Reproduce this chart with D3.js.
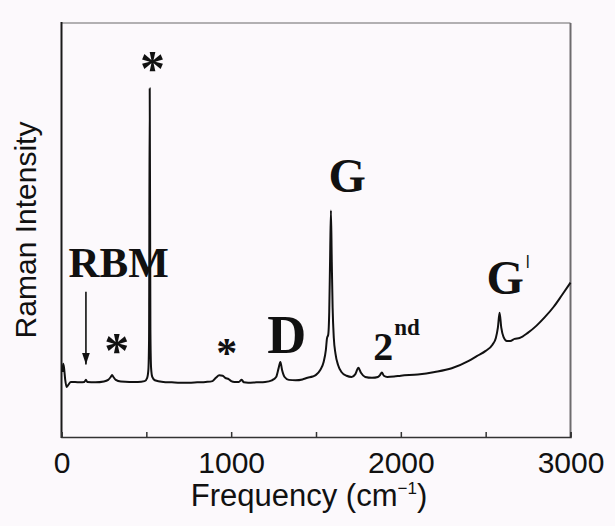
<!DOCTYPE html>
<html><head><meta charset="utf-8">
<script src="https://cdn.jsdelivr.net/npm/d3@7"></script>
<style>html,body{margin:0;padding:0;background:#fcf9fc;} svg{display:block}</style>
</head><body>
<svg id="chart" width="615" height="526"></svg>
<script>
// Raman spectrum (arbitrary intensity units)
const frequency = [5,10,15,22,30,40,55,80,110,135,144,152,200,250,275,290,298,306,320,350,400,450,490,505,512,516,520,524,528,535,550,600,650,700,750,800,850,890,910,930,950,965,985,1000,1020,1045,1062,1075,1100,1150,1200,1240,1265,1280,1290,1300,1315,1340,1380,1420,1450,1480,1500,1525,1545,1558,1565,1572,1578,1583,1588,1593,1598,1605,1615,1630,1650,1680,1710,1732,1750,1765,1790,1830,1865,1878,1888,1900,1920,1960,2000,2100,2200,2300,2400,2450,2500,2540,2560,2572,2582,2592,2605,2625,2645,2670,2700,2750,2800,2850,2900,2950,3000];
const intensity = [15.7,17.7,16.7,13.8,12.1,12.6,13.3,13.3,13.2,13.3,13.8,13.3,13.2,13.4,13.8,14.5,15.0,14.5,13.8,13.4,13.3,13.3,13.5,14.3,16.2,23.5,84.2,25.9,16.7,14.5,13.7,13.3,13.2,13.1,13.1,13.2,13.3,13.5,14.3,14.9,14.8,14.3,14.0,13.5,13.3,13.3,13.8,13.2,13.1,13.2,13.3,13.7,14.5,16.7,18.1,16.2,14.5,13.8,13.7,13.9,14.3,14.6,15.0,16.2,18.1,21.0,23.9,24.7,30.2,42.8,54.7,42.3,31.2,23.9,20.1,17.4,15.7,14.8,14.5,15.2,16.7,15.5,14.5,14.3,14.5,15.0,15.6,14.8,14.5,14.6,14.8,15.1,15.7,16.6,18.4,19.6,20.8,22.3,23.9,26.4,30.0,26.4,24.2,23.2,23.2,23.7,23.9,25.2,26.9,29.0,31.4,34.3,37.3];

const xDomain = [0, 3000];
const yDomain = [0, 100];
const xTickValues = [0, 500, 1000, 1500, 2000, 2500, 3000];
const xTickLabels = ["0", "", "1000", "", "2000", "", "3000"];
const xTitle = "Frequency (cm";
const xTitleSup = "\u22121";
const yTitle = "Raman Intensity";

// peak annotations: text, superscript, and anchor (frequency, intensity)
const annotText = ["*", "RBM", "*", "*", "D", "G", "2", "G"];
const annotSup  = ["", "", "", "", "", "", "nd", "\u01C0"];
const annotFreq = [537, 337, 325, 974, 1327, 1683, 1974, 2632];
const annotInt  = [85.0, 38.7, 17.0, 16.9, 20.3, 59.2, 18.6, 34.5];

(function draw() {
const mL = 61.5, mR = 570.5, mT = 23, mB = 437;
const svg = d3.select("#chart");

const x = d3.scaleLinear().domain(xDomain).range([mL, mR]);
const y = d3.scaleLinear().domain(yDomain).range([mB, mT]);

// frame
svg.append("line").attr("x1", mL).attr("x2", mR).attr("y1", mT).attr("y2", mT)
  .attr("stroke", "#9a979a").attr("stroke-width", 1.5);
svg.append("line").attr("x1", mR).attr("x2", mR).attr("y1", mT).attr("y2", mB)
  .attr("stroke", "#6e6c6e").attr("stroke-width", 2);
svg.append("line").attr("x1", mL).attr("x2", mL).attr("y1", mT - 1).attr("y2", mB + 1)
  .attr("stroke", "#1a1a1a").attr("stroke-width", 2);

// bottom axis
const ax = svg.append("g").attr("transform", `translate(0,${mB})`)
  .call(d3.axisBottom(x).tickValues(xTickValues).tickSize(-5)
    .tickFormat((d, i) => xTickLabels[i]));
ax.select(".domain").attr("stroke", "#333").attr("stroke-width", 1.6);
ax.selectAll(".tick line").attr("stroke", "#333").attr("stroke-width", 1.5);
ax.selectAll(".tick text").attr("y", 36).attr("dy", 0)
  .attr("font-family", "'Liberation Sans', Arial, sans-serif")
  .attr("font-size", 30).attr("fill", "#111");

// axis titles
const xt = svg.append("text").attr("x", 309).attr("y", 506)
  .attr("text-anchor", "middle").attr("font-family", "'Liberation Sans', Arial, sans-serif")
  .attr("font-size", 31).attr("fill", "#111");
xt.append("tspan").text(xTitle);
xt.append("tspan").attr("font-size", 17).attr("dy", -12).text(xTitleSup);
xt.append("tspan").attr("dy", 12).text(")");

svg.append("text").attr("transform", `translate(36,${(mT + mB) / 2}) rotate(-90)`)
  .attr("text-anchor", "middle").attr("font-family", "'Liberation Sans', Arial, sans-serif")
  .attr("font-size", 30).attr("fill", "#111").text(yTitle);

// spectrum
const pts = frequency.map((f, i) => [f, intensity[i]]);
svg.append("path").datum(pts)
  .attr("d", d3.line().x(d => x(d[0])).y(d => y(d[1])).curve(d3.curveMonotoneX))
  .attr("fill", "none").attr("stroke", "#111").attr("stroke-width", 2);

// annotations
const serif = "'Liberation Serif', 'Times New Roman', serif";
const sizes = [50, 43, 50, 42, 54, 48, 40, 48];
annotText.forEach((t, i) => {
  const tx = svg.append("text").attr("x", x(annotFreq[i])).attr("y", y(annotInt[i]))
    .attr("text-anchor", "middle").attr("font-family", serif).attr("font-weight", "bold")
    .attr("font-size", sizes[i]).attr("fill", "#111");
  tx.append("tspan").text(t);
  if (annotSup[i] === "nd") {
    tx.append("tspan").attr("font-size", 23).attr("dx", 1).attr("dy", -25).text(annotSup[i]);
  } else if (annotSup[i]) {
    tx.append("tspan").attr("font-size", 18).attr("font-weight", "bold")
      .attr("dx", 2).attr("dy", -26).text(annotSup[i]);
  }
});

// RBM arrow
const ax0 = x(144);
svg.append("defs").append("marker").attr("id", "ah").attr("viewBox", "0 0 10 10")
  .attr("refX", 10).attr("refY", 5).attr("markerWidth", 12).attr("markerHeight", 8)
  .attr("markerUnits", "userSpaceOnUse").attr("orient", "auto").attr("preserveAspectRatio", "none")
  .append("path").attr("d", "M0,0 L10,5 L0,10 Z").attr("fill", "#111");
svg.append("line").attr("x1", ax0).attr("x2", ax0).attr("y1", y(35.1)).attr("y2", y(17.5))
  .attr("stroke", "#111").attr("stroke-width", 1.6).attr("marker-end", "url(#ah)");
})();
</script>
</body></html>
